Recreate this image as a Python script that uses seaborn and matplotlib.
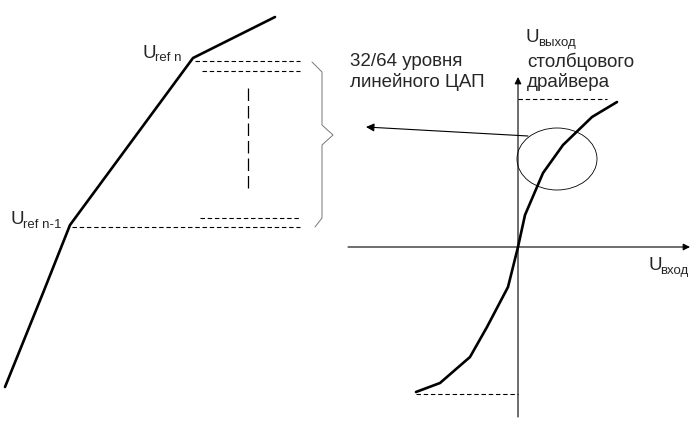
import numpy as np
import pandas as pd
import matplotlib.pyplot as plt
import seaborn as sns
from matplotlib.patches import Ellipse

sns.set_style("white")
plt.rcParams['font.family'] = ['Liberation Sans', 'DejaVu Sans']

# left piecewise curve (picture coords, y down)
left_x = [5, 43, 70, 193, 275]
left_y = [387, 293, 225, 58, 17]

# right transfer curve
right_x = [416, 440, 470, 487, 508, 518, 525, 543, 563, 592, 617]
right_y = [392, 383, 357, 327, 287, 247, 215, 173, 145, 117, 102]

# dashed reference levels on the left
dash_levels = [61, 71, 218, 227]
dash_start = [195, 202, 200, 72]
dash_end = [300, 300, 300, 300]

# axes of the right plot
origin = (518, 247)
ref_labels = ["ref n", "ref n-1"]
ref_pos = [(143, 53), (11, 220)]

fig = plt.figure(figsize=(6.91, 4.21), dpi=100)
ax = fig.add_axes([0, 0, 1, 1])

left = pd.DataFrame({'x': left_x, 'y': left_y})
right = pd.DataFrame({'x': right_x, 'y': right_y})
sns.lineplot(data=left, x='x', y='y', sort=False, color='black', lw=1.9, ax=ax)
sns.lineplot(data=right, x='x', y='y', sort=False, color='black', lw=1.9, ax=ax)
ax.set_xlim(0, 691)
ax.set_ylim(421, 0)
ax.axis('off')

# dashed levels
for y, x0, x1 in zip(dash_levels, dash_start, dash_end):
    ax.plot([x0, x1], [y, y], color='black', lw=0.8, dashes=(4, 2.5))

# vertical long-dash "ellipsis"
ax.plot([248, 248], [88, 192], color='black', lw=0.9, dashes=(10, 4))

# brace
bx = [312, 322, 322, 333, 322, 322, 315]
by = [62, 72, 125, 135, 145, 218, 227]
ax.plot(bx, by, color='#777777', lw=0.7)

# right axes
ox, oy = origin
ax.annotate('', xy=(ox, 77), xytext=(ox, 417),
            arrowprops=dict(arrowstyle='-|>', color='black', lw=0.8,
                            mutation_scale=10, shrinkA=0, shrinkB=0))
ax.annotate('', xy=(690, oy), xytext=(348, oy),
            arrowprops=dict(arrowstyle='-|>', color='black', lw=0.8,
                            mutation_scale=10, shrinkA=0, shrinkB=0))

# dashed saturation levels
ax.plot([518, 607], [99, 99], color='black', lw=0.8, dashes=(4, 2.5))
ax.plot([416, 518], [394, 394], color='black', lw=0.8, dashes=(4, 2.5))

# ellipse and arrow
ax.add_patch(Ellipse((557, 159), 80, 62, fill=False, color='black', lw=0.6))
ax.annotate('', xy=(366, 127), xytext=(528, 136),
            arrowprops=dict(arrowstyle='-|>', color='black', lw=0.8,
                            mutation_scale=12, shrinkA=0, shrinkB=0))

# texts
fs = 13.5
sfs = 9.5
for lab, (x, y) in zip(ref_labels, ref_pos):
    ax.text(x, y, 'U', fontsize=fs, va='center', ha='left')
    ax.text(x + 12, y + 5, lab, fontsize=sfs, va='center', ha='left')

ax.text(350, 62, '32/64 уровня', fontsize=fs, va='center', ha='left')
ax.text(350, 82, 'линейного ЦАП', fontsize=fs, va='center', ha='left')

ax.text(526, 37, 'U', fontsize=fs, va='center', ha='left')
ax.text(538, 43, 'выход', fontsize=sfs, va='center', ha='left')
ax.text(527, 62, 'столбцового', fontsize=fs, va='center', ha='left')
ax.text(527, 82, 'драйвера', fontsize=fs, va='center', ha='left')

ax.text(649, 265, 'U', fontsize=fs, va='center', ha='left')
ax.text(660, 271, 'вход', fontsize=sfs, va='center', ha='left')

fig.savefig('out.png', dpi=100)
